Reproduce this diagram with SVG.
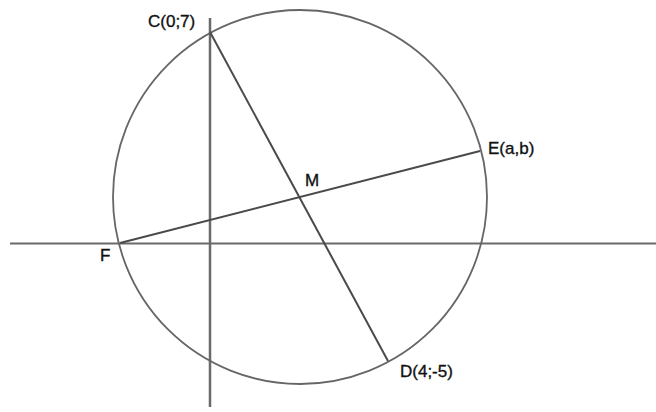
<svg xmlns="http://www.w3.org/2000/svg" width="656" height="412" viewBox="0 0 656 412">
<style>
.lbl{font-family:"Liberation Sans",Arial,sans-serif;font-size:17px;fill:#111;stroke:#111;stroke-width:0.35}
.seg{stroke:#4a4a4a;stroke-width:2;fill:none}
.axis{stroke:#6a6a6a;fill:none}
</style>
<rect width="656" height="412" fill="#fff"/>
<g id="axes">
<line class="axis" x1="10" y1="243.5" x2="656" y2="243.5" stroke-width="1.8" stroke="#555"/>
<line class="axis" x1="210" y1="18" x2="210" y2="407" stroke-width="2.5" stroke="#888"/>
</g>
<g id="circle">
<circle cx="300" cy="197" r="187" fill="none" stroke="#666" stroke-width="1.8"/>
</g>
<g id="connectors">
<line class="seg" x1="210" y1="32" x2="388" y2="361"/>
<line class="seg" x1="120" y1="243" x2="480" y2="151"/>
</g>
<g id="C"><text class="lbl" x="148" y="27">C(0;7)</text></g>
<g id="D"><text class="lbl" x="400" y="377">D(4;-5)</text></g>
<g id="E"><text class="lbl" x="488" y="154">E(a,b)</text></g>
<g id="F"><text class="lbl" x="100" y="261">F</text></g>
<g id="M"><text class="lbl" x="305" y="186">M</text></g>
</svg>
